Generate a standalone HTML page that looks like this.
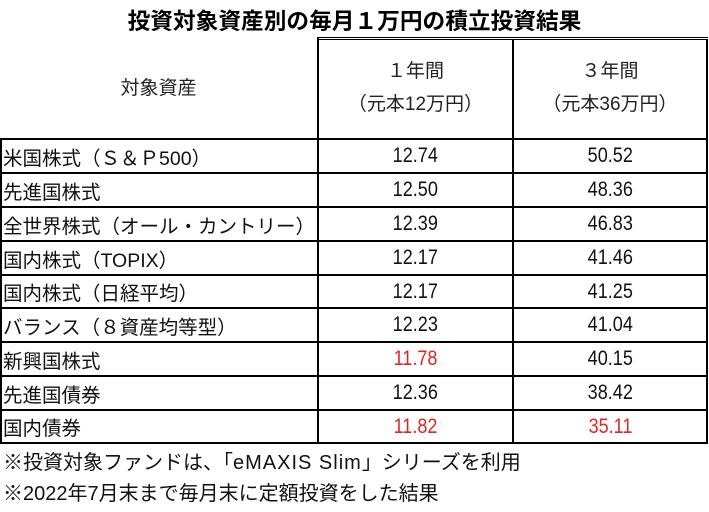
<!DOCTYPE html>
<html>
<head>
<meta charset="utf-8">
<style>
  html, body { margin:0; padding:0; background:#fff; }
  body { width:709px; height:512px; position:relative; overflow:hidden;
    font-family:"Liberation Sans","Noto Sans CJK JP",sans-serif; color:#111; }
  .abs { position:absolute; }
  .hl { position:absolute; height:2px; background:#000; left:0; width:708px; }
  .vl { position:absolute; width:2px; background:#000; }
  .title { position:absolute; left:0; width:709px; top:4px; text-align:center;
    font-family:"Noto Sans CJK JP",sans-serif; font-weight:bold; font-size:22.7px; line-height:32px; color:#000; }
  .row { position:absolute; left:0; width:708px; display:flex; align-items:center; font-size:19.5px; }
  .c0 { position:absolute; left:3px; white-space:nowrap; }
  .c1, .c2 { position:absolute; text-align:center; font-size:21px; }
  .c1 { left:319px; width:193px; }
  .c2 { left:514px; width:192px; }
  .c1 span, .c2 span { display:inline-block; transform:scaleX(0.86); }
  .red { color:#e02525; }
  .hdr { position:absolute; text-align:center; font-size:19px; line-height:24px; white-space:nowrap; color:#222; }
  .note { position:absolute; left:3px; font-size:20px; line-height:26px; white-space:nowrap; color:#111; }
</style>
</head>
<body>
<div class="title">投資対象資産別の毎月１万円の積立投資結果</div>

<div class="abs" style="left:318px;top:37px;width:390px;height:1px;background:#000;"></div>
<div class="abs" style="left:318px;top:39px;width:390px;height:1px;background:#000;"></div>

<div class="vl" style="left:0;top:138px;height:306px;"></div>
<div class="vl" style="left:317px;top:37px;height:407px;"></div>
<div class="vl" style="left:512px;top:39px;height:405px;"></div>
<div class="vl" style="left:706px;top:39px;height:405px;"></div>

<div class="hl" style="top:138px;"></div>
<div class="hl" style="top:172px;"></div>
<div class="hl" style="top:206px;"></div>
<div class="hl" style="top:240px;"></div>
<div class="hl" style="top:274px;"></div>
<div class="hl" style="top:307px;"></div>
<div class="hl" style="top:341px;"></div>
<div class="hl" style="top:375px;"></div>
<div class="hl" style="top:409px;"></div>
<div class="hl" style="top:442px;"></div>

<div class="hdr" style="left:0;width:317px;top:77px;">対象資産</div>
<div class="hdr" style="left:319px;width:193px;top:60px;">１年間</div>
<div class="hdr" style="left:319px;width:193px;top:93px;">（元本12万円）</div>
<div class="hdr" style="left:514px;width:192px;top:60px;">３年間</div>
<div class="hdr" style="left:514px;width:192px;top:93px;">（元本36万円）</div>

<div class="row" style="top:140px;height:32px;"><span class="c0">米国株式（Ｓ＆Ｐ500）</span><span class="c1"><span>12.74</span></span><span class="c2"><span>50.52</span></span></div>
<div class="row" style="top:174px;height:32px;"><span class="c0">先進国株式</span><span class="c1"><span>12.50</span></span><span class="c2"><span>48.36</span></span></div>
<div class="row" style="top:208px;height:32px;"><span class="c0">全世界株式（オール・カントリー）</span><span class="c1"><span>12.39</span></span><span class="c2"><span>46.83</span></span></div>
<div class="row" style="top:242px;height:32px;"><span class="c0">国内株式（TOPIX）</span><span class="c1"><span>12.17</span></span><span class="c2"><span>41.46</span></span></div>
<div class="row" style="top:276px;height:31px;"><span class="c0">国内株式（日経平均）</span><span class="c1"><span>12.17</span></span><span class="c2"><span>41.25</span></span></div>
<div class="row" style="top:309px;height:32px;"><span class="c0">バランス（８資産均等型）</span><span class="c1"><span>12.23</span></span><span class="c2"><span>41.04</span></span></div>
<div class="row" style="top:343px;height:32px;"><span class="c0">新興国株式</span><span class="c1 red"><span>11.78</span></span><span class="c2"><span>40.15</span></span></div>
<div class="row" style="top:377px;height:32px;"><span class="c0">先進国債券</span><span class="c1"><span>12.36</span></span><span class="c2"><span>38.42</span></span></div>
<div class="row" style="top:411px;height:31px;"><span class="c0">国内債券</span><span class="c1 red"><span>11.82</span></span><span class="c2 red"><span>35.11</span></span></div>

<div class="note" style="top:450px;">※投資対象ファンドは、「<span style="letter-spacing:1px;">eMAXIS Slim</span>」シリーズを利用</div>
<div class="note" style="top:481px;">※2022年7月末まで毎月末に定額投資をした結果</div>
</body>
</html>
